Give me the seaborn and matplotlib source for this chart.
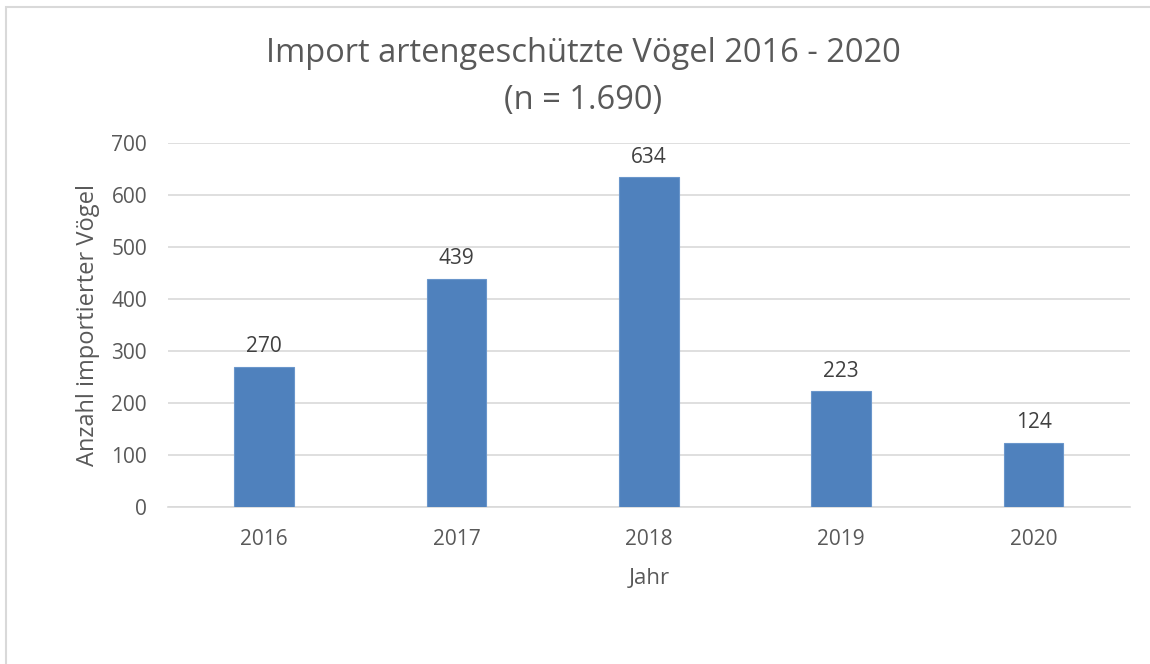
import pandas as pd
import matplotlib.pyplot as plt
import seaborn as sns
from matplotlib.patches import Rectangle

# data
jahre = ['2016', '2017', '2018', '2019', '2020']
anzahl = [270, 439, 634, 223, 124]

df = pd.DataFrame({'Jahr': jahre, 'Anzahl': anzahl})

sns.set_style('white')
plt.rcParams['font.family'] = ['Open Sans', 'DejaVu Sans']
grau = '#595959'

fig = plt.figure(figsize=(11.5, 6.64), dpi=100)
ax = fig.add_axes([0.146, 0.2364, 0.8365, 0.5482])

sns.barplot(x='Jahr', y='Anzahl', data=df, color='#4F81BD', width=0.31,
            saturation=1, ax=ax, zorder=3, edgecolor='#6A96CB', linewidth=0.8)

# value labels
for i, v in enumerate(anzahl):
    ax.text(i, v + 18, str(v), ha='center', va='bottom', fontsize=15, color='#404040')

ax.set_ylim(0, 700)
ax.set_xlim(-0.5, 4.5)
ax.set_yticks(range(0, 701, 100))
ax.yaxis.grid(True, color='#D9D9D9', linewidth=1.2, zorder=0)
ax.set_axisbelow(True)
for s in ['top', 'right', 'left']:
    ax.spines[s].set_visible(False)
ax.spines['bottom'].set_color('#D9D9D9')
ax.spines['bottom'].set_linewidth(1.2)
ax.tick_params(axis='both', length=0, labelsize=15, colors=grau)
ax.tick_params(axis='y', pad=15)
ax.tick_params(axis='x', pad=16)

ax.set_xlabel('Jahr', fontsize=16, color=grau, labelpad=13)
ax.set_ylabel('Anzahl importierter Vögel', fontsize=17, color=grau, labelpad=8)

fig.text(0.507, 0.884, 'Import artengeschützte Vögel 2016 - 2020\n(n = 1.690)',
         ha='center', va='center', fontsize=23.5, color=grau, linespacing=1.55)

# outer frame
fig.patches.append(Rectangle((6 / 1150, -0.1), 1.2, 0.1 + (664 - 7) / 664,
                             transform=fig.transFigure, fill=False,
                             edgecolor='#D9D9D9', linewidth=1.5))

fig.savefig('out.png', dpi=100)
